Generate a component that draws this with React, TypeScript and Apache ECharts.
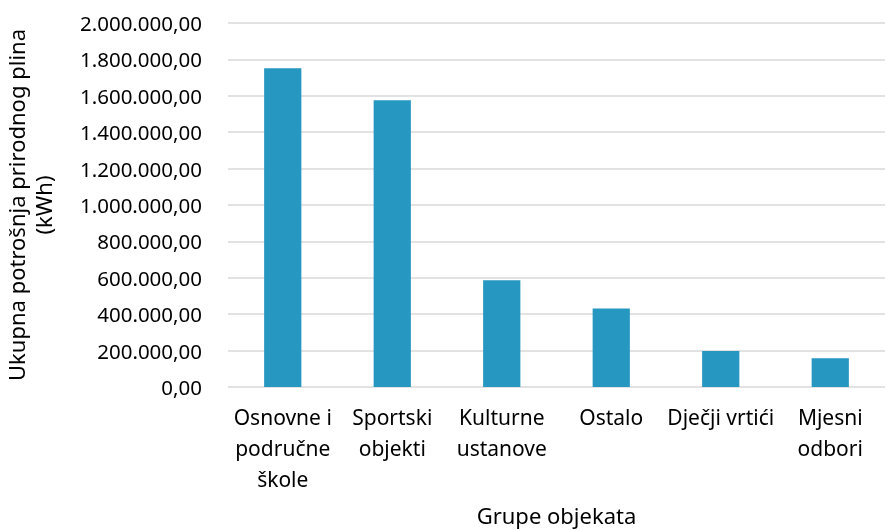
import React, { useEffect, useRef } from "react";
import * as echarts from "echarts";

const categories = [
  "Osnovne i\npodručne\nškole",
  "Sportski\nobjekti",
  "Kulturne\nustanove",
  "Ostalo",
  "Dječji vrtići",
  "Mjesni\nodbori",
];
const values = [1751000, 1576000, 587000, 431000, 198000, 158000];
const yMin = 0;
const yMax = 2000000;
const yInterval = 200000;

const fmt = (v: number) => {
  const s = Math.round(v).toString().replace(/\B(?=(\d{3})+(?!\d))/g, ".");
  return s + ",00";
};

export default function App() {
  const ref = useRef<HTMLDivElement>(null);
  useEffect(() => {
    if (!ref.current) return;
    const chart = echarts.init(ref.current, undefined, { renderer: "svg" });
    const font = "'Noto Sans', sans-serif";
    chart.setOption({
      animation: false,
      grid: {
        left: 228,
        right: 2,
        top: 23,
        bottom: 144,
        containLabel: false,
        outerBoundsMode: "none",
      },
      xAxis: {
        type: "category",
        data: categories,
        axisLine: { show: false },
        axisTick: { show: false },
        axisLabel: {
          color: "#000",
          fontSize: 21,
          fontFamily: font,
          lineHeight: 31,
          margin: 14,
          interval: 0,
        },
        name: "Grupe objekata",
        nameLocation: "middle",
        nameGap: 115,
        nameTextStyle: { color: "#000", fontSize: 22, fontFamily: font, lineHeight: 26 },
      },
      yAxis: {
        type: "value",
        min: yMin,
        max: yMax,
        interval: yInterval,
        axisLine: { show: false },
        axisTick: { show: false },
        splitLine: { lineStyle: { color: "#d9d9d9", width: 1.5 } },
        axisLabel: {
          color: "#000",
          fontSize: 20.5,
          fontFamily: font,
          margin: 26,
          formatter: (v: number) => fmt(v),
        },
        name: "Ukupna potrošnja prirodnog plina\n(kWh)",
        nameLocation: "middle",
        nameGap: 172,
        nameRotate: 90,
        nameTextStyle: { color: "#000", fontSize: 22, fontFamily: font, lineHeight: 27 },
      },
      series: [
        {
          type: "bar",
          data: values,
          barWidth: "34%",
          itemStyle: { color: "#2697C0" },
        },
      ],
    });
    return () => chart.dispose();
  }, []);
  return (
    <div
      ref={ref}
      style={{ position: "fixed", left: 0, top: 0, width: 887, height: 531 }}
    />
  );
}
